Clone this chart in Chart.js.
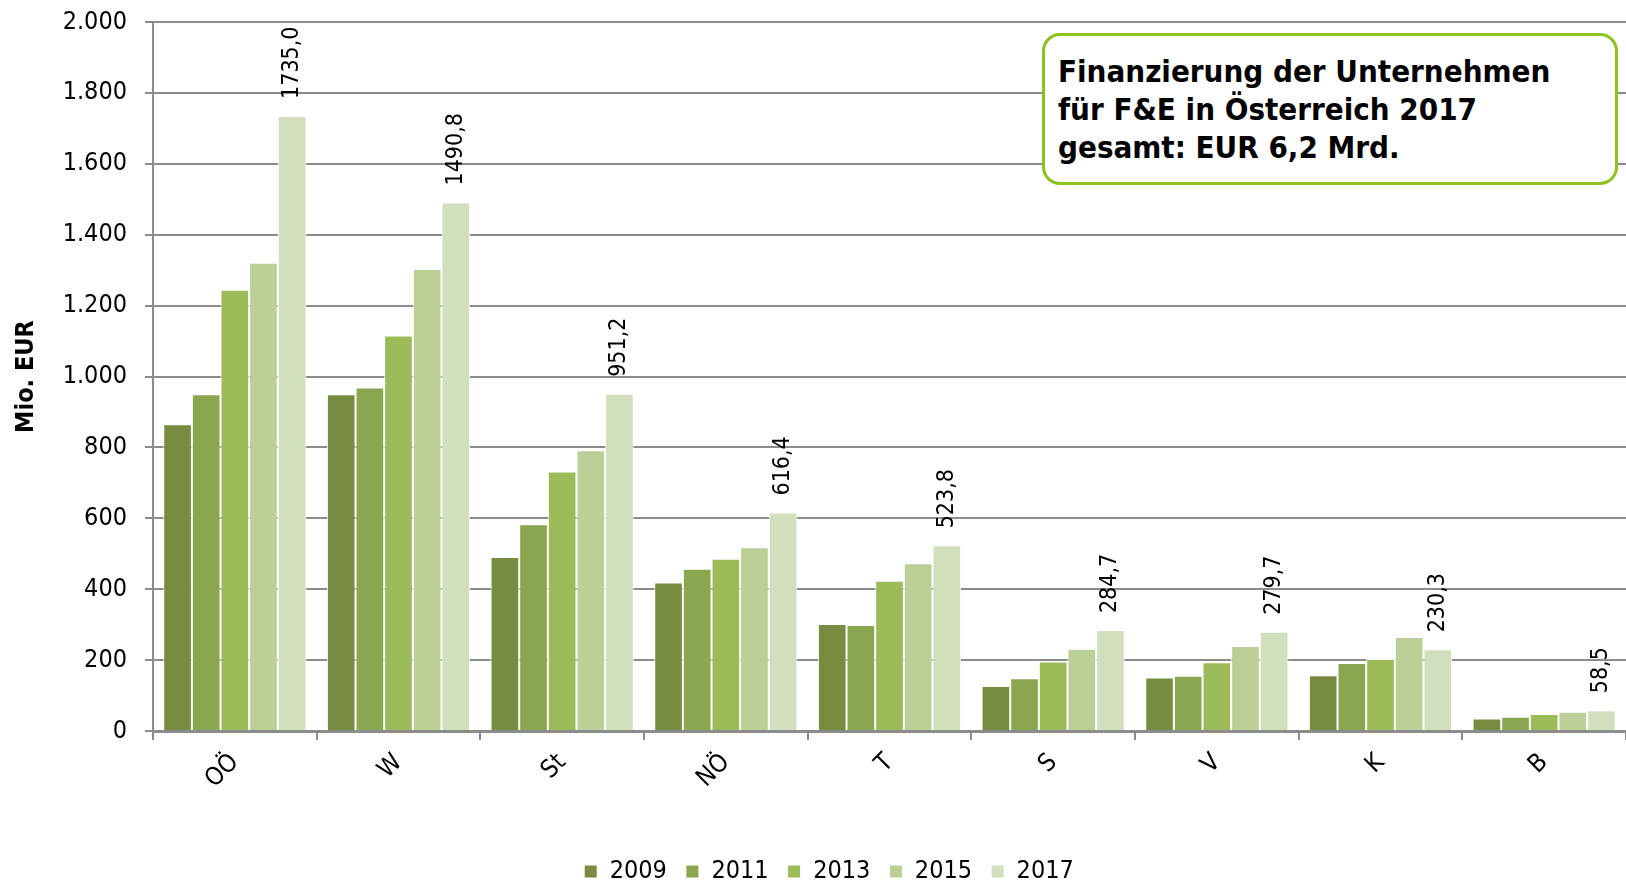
<!DOCTYPE html>
<html>
<head>
<meta charset="utf-8">
<script src="https://cdn.jsdelivr.net/npm/chart.js@4.4.1/dist/chart.umd.min.js"></script>
<style>
  html, body { margin: 0; padding: 0; background: #fff; overflow: hidden; }
  #wrap { position: relative; width: 1626px; height: 886px; }
  #titleBox {
    position: absolute; left: 1042px; top: 33px; width: 576px; height: 152px;
    box-sizing: border-box; border: 3px solid #8dc21f; border-radius: 18px;
    background: #fff; padding: 16px 0 0 13px;
    font: bold 31px/38px "DejaVu Sans Condensed", "DejaVu Sans", sans-serif; color: #000;
  }
</style>
</head>
<body>
<div id="wrap">
  <canvas id="chart" width="1626" height="886"></canvas>
  <div id="titleBox">Finanzierung der Unternehmen<br>für F&amp;E in Österreich 2017<br>gesamt: EUR 6,2 Mrd.</div>
</div>
<script>
// ─── Daten (Mio. EUR) ─────────────────────────────
const regions = ['OÖ', 'W', 'St', 'NÖ', 'T', 'S', 'V', 'K', 'B'];
const years   = ['2009', '2011', '2013', '2015', '2017'];
const v2009 = [865, 950, 491, 419, 302, 127, 151, 157, 35];
const v2011 = [950, 969, 583, 458, 299, 149, 156, 192, 40];
const v2013 = [1245, 1116, 732, 486, 424, 196, 194, 203, 48];
const v2015 = [1321, 1303, 792, 518, 473, 232, 240, 265, 54];
const v2017 = [1735.0, 1490.8, 951.2, 616.4, 523.8, 284.7, 279.7, 230.3, 58.5];
const yTicks = [0, 200, 400, 600, 800, 1000, 1200, 1400, 1600, 1800, 2000];

const COLORS = ['#778c40', '#8aa64f', '#9bbb59', '#bbcf97', '#d1dfbd'];
const FONT   = '"DejaVu Sans Condensed", "DejaVu Sans", sans-serif';
const GRID   = '#8c8c8c';

const thousands = v => String(v).replace(/\B(?=(\d{3})+(?!\d))/g, '.');
const decimal1  = v => v.toFixed(1).replace('.', ',');

// Werte über den 2017-Balken, um 90° gedreht
const valueLabels = {
  id: 'valueLabels',
  afterDatasetsDraw(chart) {
    const ctx  = chart.ctx;
    const meta = chart.getDatasetMeta(4);
    ctx.save();
    ctx.font = '23px ' + FONT;
    ctx.fillStyle = '#000';
    ctx.textAlign = 'left';
    ctx.textBaseline = 'middle';
    meta.data.forEach((bar, i) => {
      ctx.save();
      ctx.translate(bar.x, bar.y - 17);
      ctx.rotate(-Math.PI / 2);
      ctx.fillText(decimal1(v2017[i]), 0, 0);
      ctx.restore();
    });
    ctx.restore();
  }
};

const series = [v2009, v2011, v2013, v2015, v2017];

new Chart(document.getElementById('chart'), {
  type: 'bar',
  data: {
    labels: regions,
    datasets: series.map((data, i) => ({
      label: years[i],
      data,
      backgroundColor: COLORS[i],
      borderColor: '#ffffff',
      borderWidth: 1,
      borderSkipped: 'bottom',
      categoryPercentage: 0.875,
      barPercentage: 1.0,
    })),
  },
  options: {
    responsive: false,
    animation: false,
    // left padding only nudges the bottom legend to the right
    layout: { padding: { top: 22, right: 0, left: 32, bottom: -8 } },
    plugins: {
      legend: {
        position: 'bottom',
        labels: { color: '#000', font: { size: 25, family: FONT }, boxWidth: 13, boxHeight: 13, padding: 19 },
      },
      tooltip: { enabled: false },
    },
    scales: {
      x: {
        grid: { display: true, drawOnChartArea: false, offset: true, color: GRID, lineWidth: 2, tickLength: 9 },
        border: { color: GRID, width: 3 },
        ticks: { color: '#000', font: { size: 25, family: FONT }, minRotation: 45, maxRotation: 45, padding: 8 },
        afterFit: s => { s.height = 109; },
      },
      y: {
        min: 0, max: 2000,
        afterBuildTicks: s => { s.ticks = yTicks.map(v => ({ value: v })); },
        grid: { color: GRID, lineWidth: 2, tickLength: 8 },
        border: { color: GRID, width: 2 },
        ticks: { color: '#000', font: { size: 25, family: FONT }, padding: 18, callback: v => thousands(v) },
        title: { display: true, text: 'Mio. EUR', color: '#000', font: { size: 25, weight: 'bold', family: FONT }, padding: { top: -21, bottom: 0 } },
        afterFit: s => { s.width = 121; s.paddingTop = 0; s.paddingBottom = 0; },
      },
    },
  },
  plugins: [valueLabels],
});
</script>
</body>
</html>
